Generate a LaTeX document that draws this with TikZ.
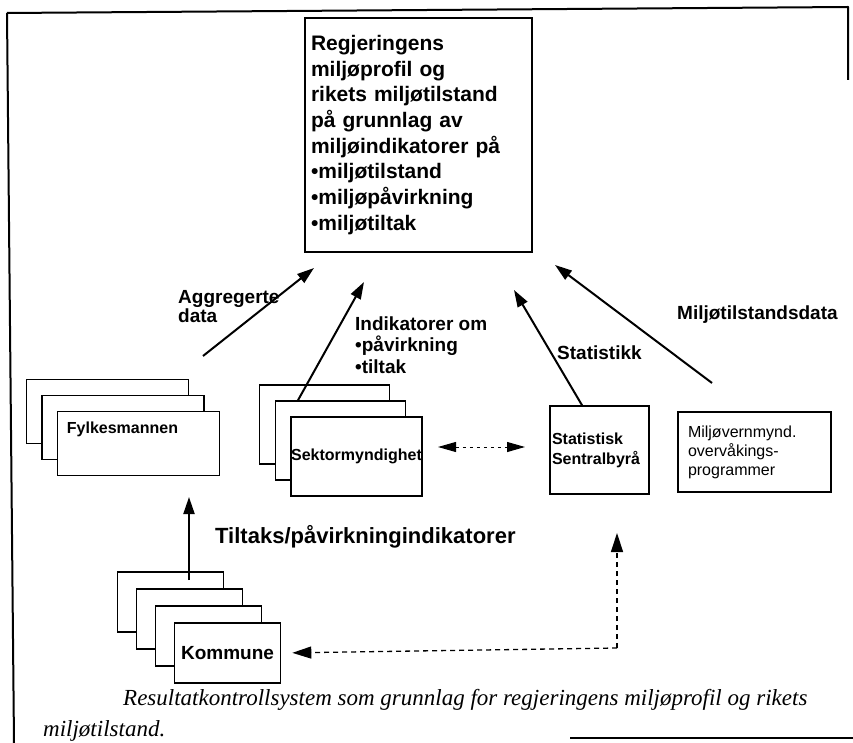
\documentclass[tikz,border=0pt]{standalone}
\usepackage{fontspec}
\setmainfont{Liberation Sans}
\newfontfamily\captionfont{Liberation Serif}
\usetikzlibrary{positioning,arrows.meta}

\begin{document}
\begin{tikzpicture}
    [
        x=1pt, y=-1pt,
        frame line/.style={line width=2pt, line join=round},
        result box/.style={draw, line width=2pt, fill=white,
            text width=215pt, minimum height=234pt, inner sep=6pt,
            align=left, font=\fontsize{21pt}{25.7pt}\selectfont\bfseries},
        card/.style={draw, line width=1.6pt, fill=white, inner sep=2pt},
        fylke card/.style={card, minimum width=162pt, minimum height=64pt},
        sektor card/.style={card, minimum width=130pt, minimum height=79pt,
            inner sep=0pt, font=\fontsize{16pt}{18pt}\selectfont\bfseries},
        kommune card/.style={card, minimum width=106pt, minimum height=60pt,
            font=\fontsize{19pt}{20pt}\selectfont\bfseries},
        flow label/.style={anchor=base west, align=left, inner sep=0pt,
            font=\fontsize{19pt}{21.5pt}\selectfont\bfseries},
        caption line/.style={anchor=base west, inner sep=0pt,
            font=\fontsize{23pt}{26pt}\selectfont\captionfont\itshape},
        flow/.style={line width=2pt, -{Triangle[length=17pt,width=11pt]}},
        link/.style={line width=1pt, dash pattern=on 3pt off 4pt,
            {Triangle[length=18pt,width=10pt]}-{Triangle[length=18pt,width=10pt]}},
        data link/.style={line width=1.3pt, dash pattern=on 5pt off 4pt,
            -{Triangle[length=19pt,width=12pt]}}
    ]
    \useasboundingbox (0,0) rectangle (853,743);

    \draw [frame line] (7,13) -- (848,7) -- (848,80);
    \draw [frame line] (7,13) -- (14,743);
    \draw [frame line] (570,738) -- (853,738);

    \node (result) [result box] at (418.5,135)
        {Regjeringens\\ miljøprofil og\\ rikets miljøtilstand\\
         på grunnlag av\\ miljøindikatorer på\\ •miljøtilstand\\
         •miljøpåvirkning\\ •miljøtiltak};

    \node (fylke 1) [fylke card] at (107.5,411.5) {};
    \node (fylke 2) [fylke card, on grid, below right=16pt and 15.5pt of fylke 1] {};
    \node (fylke 3) [fylke card, on grid, below right=16pt and 15.5pt of fylke 2] {};
    \node (fylke name)
        [anchor=base west, inner sep=0pt, font=\fontsize{16pt}{18pt}\selectfont\bfseries]
        at ([shift={(10pt,-23pt)}]fylke 3.north west)
        {Fylkesmannen};

    \node (sektor 1) [sektor card] at (324.5,424.5) {};
    \node (sektor 2) [sektor card, on grid, below right=16pt and 16pt of sektor 1] {};
    \node (sektor 3) [sektor card, on grid, below right=16pt and 16pt of sektor 2]
        {Sektormyndighet};

    \node (ssb)
        [card, minimum width=99pt, minimum height=88pt, text width=95pt, align=left,
            font=\fontsize{16pt}{20pt}\selectfont\bfseries]
        at (599.5,450)
        {Statistisk\\ Sentralbyrå};

    \node (miljo)
        [card, minimum width=153pt, minimum height=80pt, text width=133pt,
            inner xsep=10pt, align=left, font=\fontsize{16pt}{19pt}\selectfont]
        at (754.5,452)
        {Miljøvernmynd.\\ overvåkings-\\ programmer};

    \node (kommune 1) [kommune card] at (170.5,602) {};
    \node (kommune 2) [kommune card, on grid, below right=17pt and 19pt of kommune 1] {};
    \node (kommune 3) [kommune card, on grid, below right=17pt and 19pt of kommune 2] {};
    \node (kommune 4) [kommune card, on grid, below right=17pt and 19pt of kommune 3]
        {Kommune};

    \node (agg label) [flow label, font=\fontsize{19pt}{19pt}\selectfont\bfseries]
        at (178,322) {Aggregerte\\ data};
    \node (ind label) [flow label] at (355,373)
        {Indikatorer om\\ •påvirkning\\ •tiltak};
    \node (stat label) [flow label] at (557,359) {Statistikk};
    \node (milj label) [flow label] at (677,319) {Miljøtilstandsdata};
    \node (tiltak label) [flow label, font=\fontsize{22pt}{24pt}\selectfont\bfseries]
        at (215,543) {Tiltaks/påvirkningindikatorer};

    \node (caption 1) [caption line] at (123,705)
        {Resultatkontrollsystem som grunnlag for regjeringens miljøprofil og rikets};
    \node (caption 2) [caption line] at (43,736) {miljøtilstand.};

    \coordinate (agg tail) at (203,356);
    \coordinate (agg head) at (314,268);
    \coordinate (ind head) at (364,282);
    \coordinate (stat head) at (514,290);
    \coordinate (milj tail) at (712,383);
    \coordinate (milj head) at (555,265);
    \coordinate (kommune head) at (189,497);
    \coordinate (link left) at (438,447);
    \coordinate (link right) at (525,447);
    \coordinate (link corner) at (617,648);
    \coordinate (ssb head) at (617,533);

    \path
    (agg tail) edge [flow] (agg head)
    ([xshift=-42.5pt]sektor 2.north) edge [flow] (ind head)
    ([xshift=-17.5pt]ssb.north) edge [flow] (stat head)
    (milj tail) edge [flow] (milj head)
    ([shift={(18.5pt,-9pt)}]kommune 1.north) edge [flow] (kommune head)
    (link left) edge [link] (link right)
    (link corner) edge [data link, shorten >=11pt] (kommune 4.east)
    (link corner) edge [data link] (ssb head)
    ;

\end{tikzpicture}
\end{document}
